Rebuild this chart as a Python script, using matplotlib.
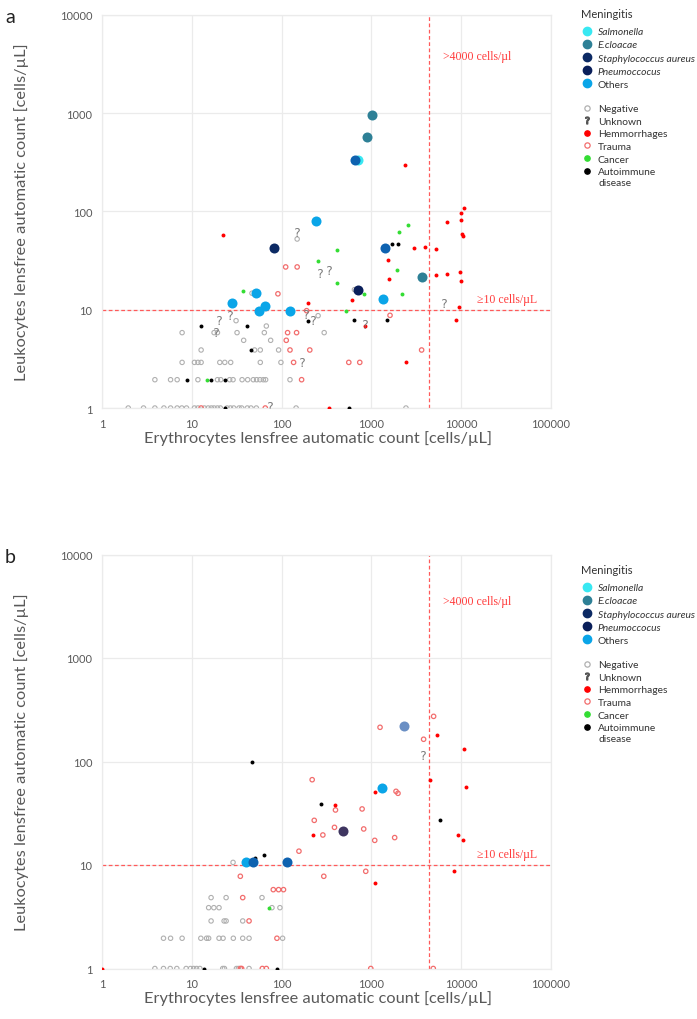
import matplotlib
matplotlib.use('Agg')
import matplotlib.pyplot as plt
from matplotlib.lines import Line2D
from matplotlib.ticker import FixedLocator, NullLocator, FuncFormatter

plt.rcParams['font.family'] = ['Lato', 'DejaVu Sans']

# ---------------- panel a data ----------------
a_negative_x = [1.96, 2.9, 3.88, 4.89, 5.8, 6.87, 7.74, 8.73, 10.7, 11.7, 13.8, 15.2, 16.5, 17.7,
                19.3, 20.8, 24.7, 26.9, 29.3, 33.6, 35.9, 41.5, 45.6, 52.3, 145, 2426,
                3.88, 5.8, 6.87, 11.7, 19.3, 21, 26.4, 28.8, 36.3, 41.9, 48.4, 52.7, 57.4, 62.6, 66.4, 124,
                7.8, 10.7, 11.7, 12.7, 20.5, 23.3, 27.1, 57.9, 98.3,
                12.7, 50.1, 57.9, 92.6,
                37.8, 75.5,
                7.8, 17.7, 19.3, 31.9, 64.2, 298,
                31.1, 67.6, 255, 46.8, 149, 647]
a_negative_y = [1] * 26 + [1.94] * 16 + [2.91] * 9 + [3.89] * 4 + [4.88] * 2 + [5.84] * 6 + \
               [7.73, 6.82, 8.69, 14.7, 52.3, 16]
a_unknown_x = [149, 271, 339, 185, 26.7, 19.95, 18.8, 223, 170, 73.6, 6470, 851]
a_unknown_y = [61, 23.6, 25.5, 9.03, 8.83, 7.8, 5.97, 7.9, 2.91, 1.05, 11.8, 7.1]
a_hemo_x = [22.3, 194.5, 341, 2387, 10800, 10000, 6870, 10000, 10090, 10340, 2954, 3947, 5186,
            1519, 1585, 5186, 6870, 9580, 10000, 610, 9420, 8650, 851, 2405]
a_hemo_y = [57.4, 11.7, 1, 296, 108, 96, 78.5, 81.6, 59, 56.6, 42.7, 43.7, 41.7,
            32, 20.5, 22.3, 23.2, 24.3, 19.6, 12.6, 10.6, 7.8, 6.8, 2.91]
a_trauma_x = [111, 149, 91, 190, 116.6, 146.8, 112.7, 124, 206, 136, 167, 12.7, 65.8,
              1612, 3624, 560, 742]
a_trauma_y = [27.2, 27.2, 14.5, 9.77, 5.84, 5.84, 4.88, 3.89, 3.89, 2.91, 1.94, 1, 1,
              8.76, 3.89, 2.91, 2.91]
a_cancer_x = [412, 255, 412, 36.9, 14.6, 2555, 2047, 1945, 836, 2173, 523]
a_cancer_y = [40.7, 31.3, 18.5, 15.6, 1.94, 72, 61, 25.3, 14.5, 14.5, 9.77]
a_autoimm_x = [12.8, 40.8, 194.5, 45.2, 8.73, 16.5, 23.3, 23.3, 1698, 1962, 637, 1506, 560]
a_autoimm_y = [6.82, 6.82, 7.73, 3.89, 1.94, 1.94, 1.94, 1, 46.5, 46.5, 7.8, 7.8, 1]
a_salmonella_x = [711]
a_salmonella_y = [333]
a_ecloacae_x = [1016, 895, 3655]
a_ecloacae_y = [946, 575, 21.5]
a_staph_x = [81.5]
a_staph_y = [42.7]
a_pneumo_x = [705]
a_pneumo_y = [15.7]
a_others_x = [243, 51.8, 28.1, 65.9, 55.5, 124, 1336]
a_others_y = [79.8, 14.7, 11.7, 10.8, 9.77, 9.77, 12.7]
a_mixed_x = [659, 1419]
a_mixed_y = [333, 42.7]

# ---------------- panel b data ----------------
b_negative_x = [3.88, 4.84, 5.75, 6.81, 8.65, 9.67, 10.5, 11.3, 12.3, 22.1, 23.1, 31.4, 33, 43.4,
                4.84, 5.8, 7.8, 12.6, 14.6, 15.4, 20.1, 22.3, 29, 36.9, 43.4, 102.6,
                16.4, 22.9, 24.1, 36.9,
                15.4, 17.6, 20.1, 78.1, 95.8,
                16.4, 24.1, 60.5,
                28.8]
b_negative_y = [1] * 14 + [1.96] * 12 + [2.88] * 4 + [3.87] * 5 + [4.84] * 3 + [10.6]
b_unknown_x = [3783]
b_unknown_y = [115]
b_hemo_x = [1, 221, 395, 5320, 10700, 4525, 11270, 1098, 9260, 10430, 1089, 8220]
b_hemo_y = [1, 19.5, 38, 180, 131, 66.7, 57.1, 51.1, 19.4, 17.3, 6.75, 8.69]
b_trauma_x = [219, 398, 231, 388, 4930, 1248, 3814, 1880, 1977, 788, 821, 1089, 1816, 865, 984,
              4885, 288, 156, 295, 34.7, 80.8, 92.6, 105, 36.9, 43.4, 88.7, 34.7, 35.9, 61, 67.6]
b_trauma_y = [66.7, 34, 27, 23.1, 273, 214, 164, 51.5, 49.3, 34.8, 22.3, 17.3, 18.4, 8.69, 1,
              1, 19.5, 13.6, 7.78, 7.78, 5.78, 5.78, 5.78, 4.84, 2.88, 1.96, 1, 1, 1, 1]
b_cancer_x = [71.7]
b_cancer_y = [3.87]
b_autoimm_x = [46.4, 273, 5850, 63.1, 50.1, 13.6, 88]
b_autoimm_y = [100, 38.5, 27, 12.5, 11.6, 1, 1]
b_others_x = [39.8, 1303]
b_others_y = [10.8, 55.5]
b_mixed_x = [48, 115.7]
b_mixed_y = [10.8, 10.8]
b_steel_x = [2327]
b_steel_y = [222]
b_purple_x = [480]
b_purple_y = [21.2]

x_ticks = [1, 10, 100, 1000, 10000, 100000]
y_ticks = [1, 10, 100, 1000, 10000]
rbc_cutoff = 4400
wbc_cutoff = 10

men_labels = ['Salmonella', 'E.cloacae', 'Staphylococcus aureus', 'Pneumoccocus', 'Others']
oth_labels = ['Negative', 'Unknown', 'Hemmorrhages', 'Trauma', 'Cancer', 'Autoimmune']

# style per category (drawing order = dict order)
STYLES = {
    'negative': dict(marker='o', s=10, facecolors='none', edgecolors='#b0b0b0', linewidths=0.8),
    'trauma': dict(marker='o', s=10, facecolors='none', edgecolors='#f26d6d', linewidths=0.9),
    'hemo': dict(marker='o', s=8, c='#ff0000', linewidths=0),
    'cancer': dict(marker='o', s=8, c='#33dd33', linewidths=0),
    'autoimm': dict(marker='o', s=8, c='#000000', linewidths=0),
    'unknown': dict(marker='$?$', s=42, c='#7f7f7f', linewidths=0),
    'salmonella': dict(marker='o', s=52, c='#38e8f2', linewidths=0),
    'ecloacae': dict(marker='o', s=52, c='#2e8096', linewidths=0),
    'staph': dict(marker='o', s=52, c='#0c2a64', linewidths=0),
    'pneumo': dict(marker='o', s=52, c='#0a1f5a', linewidths=0),
    'others': dict(marker='o', s=52, c='#0aa5e8', linewidths=0),
    'mixed': dict(marker='o', s=52, c='#0e62b0', linewidths=0),
    'steel': dict(marker='o', s=52, c='#6a8fc4', linewidths=0),
    'purple': dict(marker='o', s=52, c='#3e3560', linewidths=0),
}

panel_a = {
    'negative': (a_negative_x, a_negative_y), 'trauma': (a_trauma_x, a_trauma_y),
    'hemo': (a_hemo_x, a_hemo_y), 'cancer': (a_cancer_x, a_cancer_y),
    'autoimm': (a_autoimm_x, a_autoimm_y), 'unknown': (a_unknown_x, a_unknown_y),
    'salmonella': (a_salmonella_x, a_salmonella_y), 'ecloacae': (a_ecloacae_x, a_ecloacae_y),
    'staph': (a_staph_x, a_staph_y), 'pneumo': (a_pneumo_x, a_pneumo_y),
    'others': (a_others_x, a_others_y), 'mixed': (a_mixed_x, a_mixed_y),
}
panel_b = {
    'negative': (b_negative_x, b_negative_y), 'trauma': (b_trauma_x, b_trauma_y),
    'hemo': (b_hemo_x, b_hemo_y), 'cancer': (b_cancer_x, b_cancer_y),
    'autoimm': (b_autoimm_x, b_autoimm_y), 'unknown': (b_unknown_x, b_unknown_y),
    'others': (b_others_x, b_others_y), 'mixed': (b_mixed_x, b_mixed_y),
    'steel': (b_steel_x, b_steel_y), 'purple': (b_purple_x, b_purple_y),
}

W, H = 697, 1020
GRID = '#ebebeb'
TXT = '#595959'
LEG = '#333333'
LEG_FS = 7.4
SERIF = ['Liberation Serif', 'DejaVu Serif']


def frac(px_x, px_y):
    return px_x / W, 1 - px_y / H


def handle(key, ms):
    st = STYLES[key]
    if key == 'unknown':
        return Line2D([], [], marker='$?$', linestyle='', markersize=5, color='#555555')
    if st.get('facecolors') == 'none':
        return Line2D([], [], marker='o', linestyle='', markersize=ms,
                      markerfacecolor='none', markeredgecolor=st['edgecolors'],
                      markeredgewidth=0.9)
    return Line2D([], [], marker='o', linestyle='', markersize=ms,
                  markerfacecolor=st['c'], markeredgecolor=st['c'])


def draw_panel(fig, rect_px, data, letter, y4000, leg_off):
    left, top, right, bottom = rect_px
    ax = fig.add_axes([left / W, 1 - bottom / H, (right - left) / W, (bottom - top) / H])
    ax.set_xscale('log')
    ax.set_yscale('log')
    ax.set_xlim(1, 100000)
    ax.set_ylim(1, 10000)
    ax.xaxis.set_major_locator(FixedLocator(x_ticks))
    ax.yaxis.set_major_locator(FixedLocator(y_ticks))
    ax.xaxis.set_minor_locator(NullLocator())
    ax.yaxis.set_minor_locator(NullLocator())
    fmt = FuncFormatter(lambda v, p: f'{v:.0f}')
    ax.xaxis.set_major_formatter(fmt)
    ax.yaxis.set_major_formatter(fmt)
    ax.tick_params(length=0, labelsize=8, labelcolor=TXT, pad=7)
    ax.grid(True, color=GRID, linewidth=0.9)
    ax.set_axisbelow(True)
    for sp in ax.spines.values():
        sp.set_color(GRID)
        sp.set_linewidth(0.9)

    for key, (xs, ys) in data.items():
        ax.scatter(xs, ys, zorder=3, **STYLES[key])

    ax.axvline(rbc_cutoff, color='#ff5a5a', linestyle=(0, (3, 2)), linewidth=0.9, zorder=2)
    ax.axhline(wbc_cutoff, color='#ff5a5a', linestyle=(0, (3, 2)), linewidth=0.9, zorder=2)
    ax.text(6200, y4000, '>4000 cells/\u00b5l', color='#ff3b3b', fontsize=8.5,
            family=SERIF, va='center', ha='left')
    ax.text(15000, 12.8, '\u226510 cells/\u00b5L', color='#ff3b3b', fontsize=8.5,
            family=SERIF, va='center', ha='left')

    ax.set_xlabel('Erythrocytes lensfree automatic count [cells/\u00b5L]', fontsize=11.8,
                  color=TXT, labelpad=4)
    ax.xaxis.set_label_coords(0.48, -0.055 * 393 / (bottom - top))
    ax.set_ylabel('Leukocytes lensfree automatic count [cells/\u00b5L]', fontsize=11.8,
                  color=TXT, labelpad=22)
    fig.text(5 / W, 1 - (top + 2) / H, letter, fontsize=14, color='#222222',
             ha='left', va='center')

    # legends
    fig.text(581 / W, 1 - (14 + leg_off) / H, 'Meningitis', fontsize=8, color=LEG,
             ha='left', va='center')
    men_keys = ['salmonella', 'ecloacae', 'staph', 'pneumo', 'others']
    leg1 = fig.legend([handle(k, 6) for k in men_keys], men_labels, loc='upper left',
                      bbox_to_anchor=frac(582, 28 + leg_off), bbox_transform=fig.transFigure,
                      frameon=False, fontsize=LEG_FS, borderpad=0, handlelength=1.0,
                      handletextpad=0.55, labelspacing=0.39, borderaxespad=0)
    for t, lab in zip(leg1.get_texts(), men_labels):
        t.set_color(LEG)
        if lab != 'Others':
            t.set_style('italic')

    oth_keys = ['negative', 'unknown', 'hemo', 'trauma', 'cancer', 'autoimm']
    leg2 = fig.legend([handle(k, 3.8) for k in oth_keys], oth_labels, loc='upper left',
                      bbox_to_anchor=frac(582, 105 + leg_off), bbox_transform=fig.transFigure,
                      frameon=False, fontsize=LEG_FS, borderpad=0, handlelength=1.0,
                      handletextpad=0.55, labelspacing=0.33, borderaxespad=0)
    for t in leg2.get_texts():
        t.set_color(LEG)
    # second line of the last label, under "Autoimmune"
    fig.text(598.5 / W, 1 - (183.3 + leg_off) / H, 'disease', fontsize=LEG_FS, color=LEG,
             ha='left', va='center')
    return ax


fig = plt.figure(figsize=(W / 100, H / 100), dpi=100)
draw_panel(fig, (102, 15.7, 551, 409), panel_a, 'a', 3800, 0)
draw_panel(fig, (102, 555.5, 551, 969.5), panel_b, 'b', 3550, 556)
fig.savefig('out.png', dpi=100)
